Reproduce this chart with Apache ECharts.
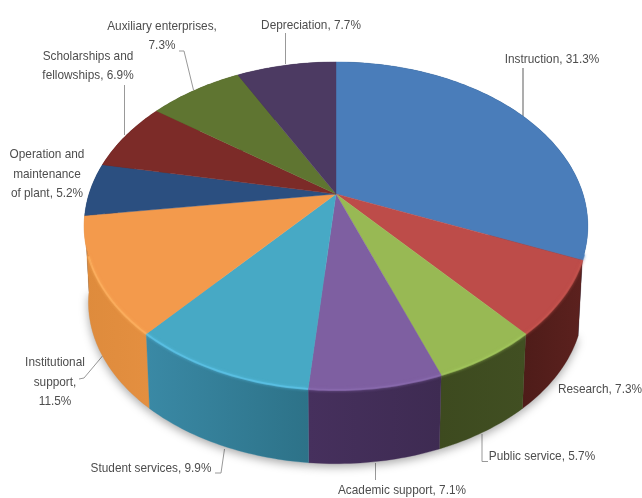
<!DOCTYPE html>
<html>
<head>
<meta charset="utf-8">
<style>html,body{margin:0;padding:0;background:#fff}#c{width:642px;height:498px}</style>
<script src="https://cdn.jsdelivr.net/npm/echarts@6/dist/echarts.min.js"></script>
</head>
<body>
<div id="c"></div>
<script>
var categories = ['Instruction','Research','Public service','Academic support','Student services','Institutional support','Operation and maintenance of plant','Scholarships and fellowships','Auxiliary enterprises','Depreciation'];
var shares = [31.3,7.3,5.7,7.1,9.9,11.5,5.2,6.9,7.3,7.7];

var topColors = ['#4a7dba','#bd4c49','#98b954','#7e5fa1','#47a9c5','#f39a4c','#2b4f80','#7c2b28','#5f7531','#4c3a62'];
var sideFrom  = ['#16304f','#4e1c19','#3d4a1f','#46305d','#3a89a5','#de8b3c','#1c3556','#571c1a','#3f4e20','#33263f'];
var sideTo    = ['#1f4370','#5c211e','#414f22','#3e2b52','#2d7288','#e48f40','#1c3556','#571c1a','#3f4e20','#33263f'];
var rimColors = ['#4a7dba','#c8544f','#a3c75c','#8a6baf','#5cc4ea','#fdb060','#2b4f80','#7c2b28','#5f7531','#4c3a62'];

// geometry of the tilted disc
var CX = 336, CY = 194, PX = 247, PY = 157.8, K = 0.195, LOW_SCALE = 0.983, LOW_DY = 77;
function rimPoint(deg) {
  var t = deg * Math.PI / 180, X = Math.sin(t), Y = -Math.cos(t), w = 1 - K * Y;
  return [CX + PX * X / w, CY + PY * Y / w, Y];
}
function lowPoint(p) {
  return [CX + LOW_SCALE * (p[0] - CX), CY + LOW_SCALE * (p[1] - CY) + LOW_DY];
}
var total = shares.reduce(function (a, b) { return a + b; }, 0);
function arcOf(i, stepDeg) {
  var before = 0; for (var j = 0; j < i; j++) before += shares[j];
  var a0 = before / total * 360, a1 = (before + shares[i]) / total * 360;
  var n = Math.max(2, Math.ceil((a1 - a0) / (stepDeg || 1))), pts = [];
  for (var k = 0; k <= n; k++) pts.push(rimPoint(a0 + (a1 - a0) * k / n));
  return pts;
}
function xy(p) { return [p[0], p[1]]; }
function fullyFront(arc) { return arc[0][2] > -0.1 && arc[arc.length - 1][2] > -0.1; }

function renderShadow(params) {
  var i = params.dataIndex, arc = arcOf(i, 1), pts = [];
  if (!fullyFront(arc)) return { type: 'group', children: [] };
  arc.forEach(function (p) { pts.push(lowPoint(p)); });
  pts.push([CX, CY + LOW_DY]);
  return { type: 'polygon', z2: 0, shape: { points: pts }, style: { fill: '#bbb', shadowBlur: 10, shadowColor: 'rgba(0,0,0,0.35)', shadowOffsetY: 3 } };
}
function renderSide(params) {
  var i = params.dataIndex, arc = arcOf(i, 1), pts = arc.map(xy);
  var depth = Math.max.apply(null, arc.map(function (p) { return p[2]; }));
  var whole = fullyFront(arc);
  if (whole) {
    arc.slice().reverse().forEach(function (p) { pts.push(lowPoint(p)); });
  } else {
    // slices that turn to the back only show a sliver down to their front seam
    var front = arc[0][2] > arc[arc.length - 1][2] ? arc[0] : arc[arc.length - 1];
    pts.push(lowPoint(front));
  }
  return {
    type: 'polygon', z2: 200 + Math.round(depth * 100), shape: { points: pts },
    style: {
      fill: { type: 'linear', x: 0, y: 0, x2: 1, y2: 0, colorStops: [{ offset: 0, color: sideFrom[i] }, { offset: 1, color: sideTo[i] }] },
      stroke: whole ? sideFrom[i] : null, lineWidth: whole ? 0.3 : 0
    }
  };
}
function renderTop(params) {
  var i = params.dataIndex, pts = arcOf(i, 1).map(xy);
  pts.push([CX, CY]);
  return { type: 'polygon', z2: 1000, shape: { points: pts }, style: { fill: topColors[i], stroke: topColors[i], lineWidth: 0.4 } };
}
function renderRim(params) {
  var i = params.dataIndex;
  var pts = arcOf(i, 1).filter(function (p) { return p[2] > 0.35; }).map(xy);
  if (pts.length < 2) return { type: 'group', children: [] };
  return { type: 'polyline', z2: 1001, shape: { points: pts }, style: { fill: null, stroke: rimColors[i], lineWidth: 2, opacity: 0.7, shadowBlur: 3, shadowColor: rimColors[i] } };
}

var labelTemplates = ['{n}, {v}%','{n}, {v}%','{n}, {v}%','{n}, {v}%','{n}, {v}%','Institutional\nsupport,\n{v}%','Operation and\nmaintenance\nof plant, {v}%','Scholarships and\nfellowships, {v}%','Auxiliary enterprises,\n{v}%','{n}, {v}%'];
var labelSpots = [[552,59],[600,389],[542,456],[402,490],[151,468],[55,382],[47,174],[88,66],[162,36],[311,25]];
var leaders = [
  [[523,68],[523,116]],
  null,
  [[482,434],[482,461.5],[488,461.5]],
  [[375.5,463],[375.5,480]],
  [[215,473],[221,473],[224.5,449]],
  [[79,379],[84,378],[105,353]],
  null,
  [[124.5,85],[124.5,135]],
  [[179,51],[184,51],[193.5,90]],
  [[285.5,33],[285.5,64]]
];

var graphics = [];
categories.forEach(function (name, i) {
  graphics.push({
    type: 'text', x: labelSpots[i][0], y: labelSpots[i][1], scaleX: 0.875, silent: true,
    style: {
      text: labelTemplates[i].replace('{n}', name).replace('{v}', shares[i].toFixed(1)),
      fill: '#4d4d4d', font: '13.5px "Liberation Sans",sans-serif',
      align: 'center', verticalAlign: 'middle', lineHeight: 19.5
    }
  });
  if (leaders[i]) graphics.push({
    type: 'polyline', silent: true, shape: { points: leaders[i] },
    style: { fill: null, stroke: '#999', lineWidth: i === 0 ? 1.6 : 1 }
  });
});

var chart = echarts.init(document.getElementById('c'), null, { renderer: 'canvas' });
var seriesData = shares.map(function (v, i) { return { name: categories[i], value: v }; });
function layer(fn) { return { type: 'custom', coordinateSystem: 'none', renderItem: fn, data: seriesData, silent: true, animation: false, clip: false }; }
chart.setOption({
  backgroundColor: '#fff',
  animation: false,
  series: [layer(renderShadow), layer(renderSide), layer(renderTop), layer(renderRim)],
  graphic: graphics
});
</script>
</body>
</html>
